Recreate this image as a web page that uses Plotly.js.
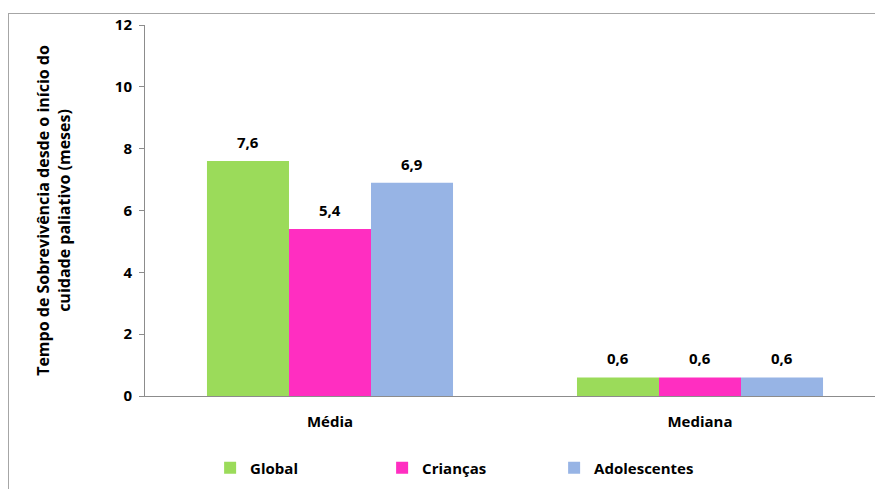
<!DOCTYPE html>
<html><head><meta charset="utf-8">
<script src="https://cdn.plot.ly/plotly-3.0.1.min.js"></script>
<style>
html,body{margin:0;padding:0;overflow:hidden;background:#fff;width:875px;height:489px}
#frame{position:absolute;left:8px;top:13px;width:900px;height:500px;border-left:1px solid #a6a6a6;border-top:1px solid #a6a6a6;pointer-events:none}
#chart{position:absolute;left:0;top:0}
</style></head>
<body>
<div id="chart"></div>
<div id="frame"></div>
<script>
const categories = ['Média', 'Mediana'];
const global = [7.6, 0.6];
const criancas = [5.4, 0.6];
const adolescentes = [6.9, 0.6];
const seriesNames = ['Global', 'Crianças', 'Adolescentes'];
const colors = ['#9BDB5A', '#FF2EC1', '#97B4E5'];
const yTicks = [0, 2, 4, 6, 8, 10, 12];

const fontFam = '"Open Sans", "DejaVu Sans", sans-serif';
const allSeries = [global, criancas, adolescentes];
const data = allSeries.map((y, i) => ({
  type: 'bar', x: categories, y: y, name: seriesNames[i],
  marker: {color: colors[i], line: {width: 0}}
}));
const barPx = 82;
const annotations = [];
allSeries.forEach((vals, i) => {
  vals.forEach((v, j) => {
    annotations.push({
      x: categories[j], y: v, xref: 'x', yref: 'y',
      text: v.toFixed(1).replace('.', ','), showarrow: false,
      xanchor: 'center', yanchor: 'bottom', yshift: 7, xshift: (i - 1) * barPx,
      font: {family: fontFam, size: 15, color: '#000', weight: 'bold'}
    });
  });
});
const layout = {
  width: 890, height: 489,
  margin: {l: 145, r: 5, t: 25, b: 93},
  separators: ',.',
  bargap: 0.335, bargroupgap: 0,
  plot_bgcolor: '#fff', paper_bgcolor: 'rgba(0,0,0,0)',
  font: {family: fontFam, color: '#000'},
  showlegend: true,
  annotations: annotations,
  legend: {orientation: 'h', x: 0.088, xanchor: 'left', y: -0.194, yanchor: 'middle',
    entrywidth: 127, entrywidthmode: 'pixels', itemwidth: 30,
    font: {family: fontFam, size: 15, weight: 'bold', color: '#000'}},
  xaxis: {showline: true, linecolor: '#8c8c8c', linewidth: 1, ticks: '', ticklabelstandoff: 12,
    tickfont: {family: fontFam, size: 15, weight: 'bold', color: '#000'}},
  yaxis: {range: [0, 12], tickvals: yTicks, showgrid: false, zeroline: false,
    showline: true, linecolor: '#8c8c8c', linewidth: 1, ticks: 'outside', ticklen: 5, tickcolor: '#8c8c8c',
    ticklabelstandoff: 4,
    tickfont: {family: fontFam, size: 15, weight: 'bold', color: '#000'},
    title: {text: 'Tempo de Sobrevivência desde o início do<br>cuidade paliativo (meses)', standoff: 40,
      font: {family: fontFam, size: 16, weight: 'bold', color: '#000'}}}
};
Plotly.newPlot('chart', data, layout, {staticPlot: true});
</script>
</body></html>
